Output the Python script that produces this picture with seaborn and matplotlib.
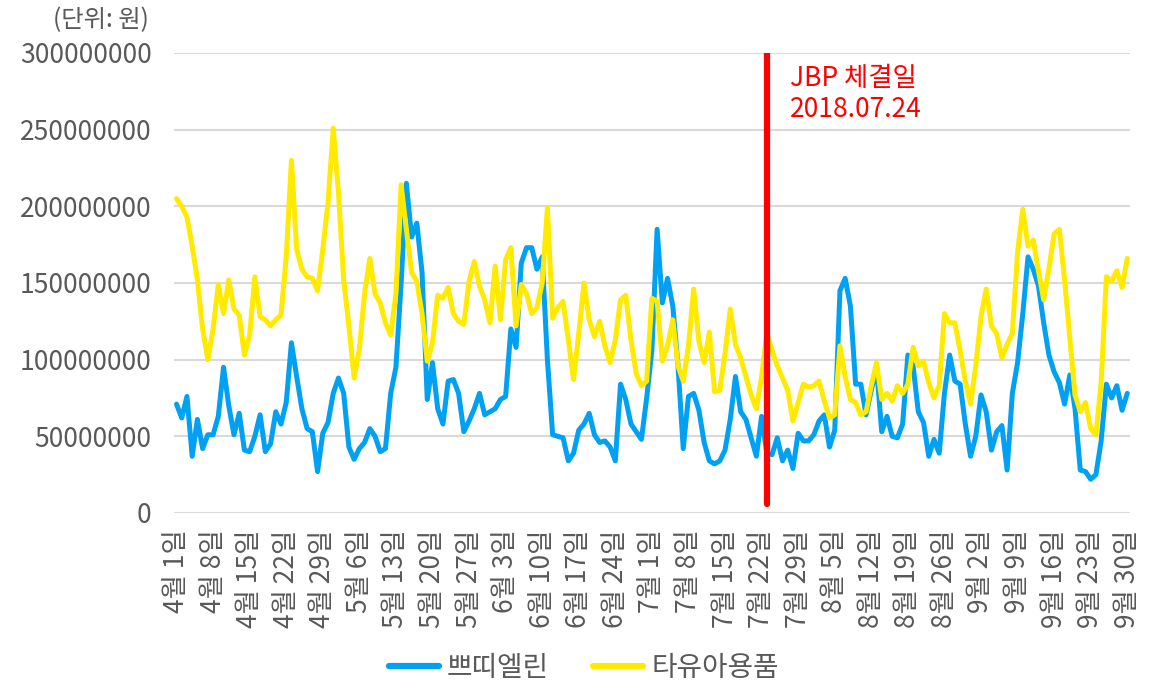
import pandas as pd
import matplotlib.pyplot as plt
import seaborn as sns
from matplotlib.lines import Line2D
from matplotlib.transforms import blended_transform_factory

# daily sales, 2018-04-01 .. 2018-09-30, in millions of won
dates = pd.date_range('2018-04-01', '2018-09-30', freq='D')

petit_elin = [71, 62, 76, 37, 61, 42, 51, 51, 63, 95, 70, 51, 65, 41, 40, 50, 64, 40, 45, 66,
              58, 72, 111, 89, 68, 55, 53, 27, 52, 59, 78, 88, 78, 43, 35, 42, 46, 55, 50, 40,
              42, 78, 95, 150, 215, 180, 189, 157, 74, 98, 68, 58, 86, 87, 78, 53, 60, 68, 78, 64,
              66, 68, 74, 76, 120, 108, 163, 173, 173, 159, 167, 100, 51, 50, 49, 34, 39, 54, 58, 65,
              51, 46, 47, 43, 34, 84, 74, 58, 53, 48, 75, 106, 185, 137, 153, 135, 96, 42, 76, 78,
              67, 46, 34, 32, 34, 41, 61, 89, 66, 61, 49, 37, 63, 39, 38, 49, 34, 41, 29, 52,
              47, 47, 51, 60, 64, 43, 54, 145, 153, 135, 84, 84, 64, 80, 95, 53, 63, 50, 49, 58,
              103, 96, 66, 59, 37, 48, 39, 78, 103, 86, 84, 58, 37, 50, 77, 66, 41, 53, 57, 28,
              78, 98, 130, 167, 159, 148, 124, 103, 92, 85, 71, 90, 68, 28, 27, 22, 25, 47, 84, 75,
              83, 67, 78]

baby_goods = [205, 200, 193, 174, 152, 120, 100, 120, 149, 130, 152, 133, 129, 103, 116, 154, 128, 126, 122, 126,
              129, 167, 230, 172, 159, 154, 153, 145, 172, 202, 251, 209, 152, 122, 88, 107, 143, 166, 143, 137,
              124, 116, 143, 214, 185, 157, 151, 130, 99, 111, 142, 140, 147, 130, 125, 123, 151, 164, 148, 139,
              124, 161, 126, 165, 173, 122, 149, 143, 130, 134, 150, 199, 127, 134, 138, 113, 87, 117, 150, 126,
              115, 125, 109, 98, 113, 139, 142, 113, 91, 83, 86, 140, 138, 99, 109, 126, 96, 86, 109, 146,
              112, 98, 118, 79, 80, 104, 133, 110, 101, 89, 77, 68, 89, 117, 106, 96, 88, 80, 60, 72,
              84, 82, 83, 86, 73, 62, 64, 109, 89, 74, 72, 64, 66, 83, 98, 74, 78, 73, 83, 78,
              84, 108, 96, 99, 85, 75, 83, 130, 124, 124, 106, 86, 71, 96, 128, 146, 122, 117, 101, 110,
              117, 170, 198, 174, 178, 158, 139, 159, 182, 185, 152, 114, 77, 66, 72, 55, 51, 85, 154, 151,
              158, 147, 166]

series_names = ['쁘띠엘린', '타유아용품']
colors = ['#00A0F2', '#FFEA00']
y_ticks = [0, 50000000, 100000000, 150000000, 200000000, 250000000, 300000000]
jbp_date = pd.Timestamp('2018-07-24')

df = pd.DataFrame({
    'day': list(range(len(dates))) * 2,
    'value': [v * 1e6 for v in petit_elin] + [v * 1e6 for v in baby_goods],
    'series': [series_names[0]] * len(dates) + [series_names[1]] * len(dates),
})

sns.set_style('white')
plt.rcParams['font.family'] = ['Noto Sans CJK KR', 'DejaVu Sans']

fig = plt.figure(figsize=(11.75, 6.88), dpi=100)
ax = fig.add_axes([0.148, 0.2544, 0.8136, 0.6686])

sns.lineplot(data=df, x='day', y='value', hue='series', palette=colors,
             linewidth=3.6, legend=False, ax=ax, zorder=3)

# grid
for t in y_ticks:
    ax.axhline(t, color='#D9D9D9', linewidth=1.5, zorder=1)

# JBP signing date (hand-drawn in the original, sits about a day left)
jbp_x = list(dates).index(jbp_date) - 1
ax.plot([jbp_x, jbp_x], [0.02, 1.0], color='#FF0000', linewidth=4.5, zorder=4,
        transform=blended_transform_factory(ax.transData, ax.transAxes))
ax.text(jbp_x + 4.4, 0.91, 'JBP 체결일\n2018.07.24', color='#FF0000', fontsize=19,
        va='center', ha='left', linespacing=1.2,
        transform=blended_transform_factory(ax.transData, ax.transAxes))

ax.set_xlim(-0.5, len(dates) - 0.5)
ax.set_ylim(0, 300000000)
tick_pos = list(range(0, len(dates), 7))
ax.set_xticks(tick_pos)
ax.set_xticklabels([f'{dates[i].month}월 {dates[i].day}일' for i in tick_pos], rotation=90)
ax.set_yticks(y_ticks)
ax.set_yticklabels([str(t) for t in y_ticks])
ax.tick_params(axis='both', length=0, labelsize=19, colors='#595959')
ax.tick_params(axis='y', pad=16)
ax.tick_params(axis='x', pad=12)
ax.set_xlabel('')
ax.set_ylabel('')
sns.despine(ax=ax, left=True, bottom=True)

fig.text(0.086, 1 - 20 / 688, '(단위: 원)', fontsize=17.5, color='#595959', ha='center', va='center')

handles = [Line2D([0], [0], color=c, linewidth=4.5) for c in colors]
fig.legend(handles, series_names, loc='center', bbox_to_anchor=(0.497, 1 - 668 / 688),
           ncol=2, frameon=False, fontsize=20, handlelength=1.8, handletextpad=0.3,
           columnspacing=1.6, labelcolor='#595959')

plt.savefig('out.png', dpi=100)
